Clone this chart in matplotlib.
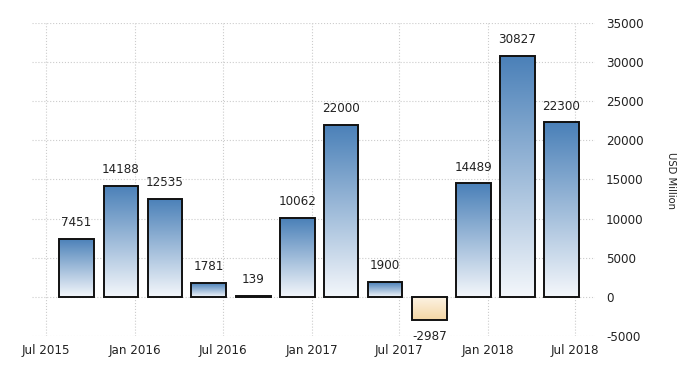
import datetime as dt

import matplotlib
matplotlib.use("Agg")
import matplotlib.pyplot as plt
import matplotlib.dates as mdates
import numpy as np
from matplotlib.colors import LinearSegmentedColormap
from matplotlib import font_manager

# quarterly values, USD million
quarters = ["2015-09-30", "2015-12-31", "2016-03-31", "2016-06-30",
            "2016-09-30", "2016-12-31", "2017-03-31", "2017-06-30",
            "2017-09-30", "2017-12-31", "2018-03-31", "2018-06-30"]
values = [7451, 14188, 12535, 1781, 139, 10062, 22000, 1900, -2987, 14489, 30827, 22300]
tick_dates = ["2015-07-01", "2016-01-01", "2016-07-01", "2017-01-01",
              "2017-07-01", "2018-01-01", "2018-07-01"]
tick_labels = ["Jul 2015", "Jan 2016", "Jul 2016", "Jan 2017",
               "Jul 2017", "Jan 2018", "Jul 2018"]
y_ticks = [-5000, 0, 5000, 10000, 15000, 20000, 25000, 30000, 35000]

names = {f.name for f in font_manager.fontManager.ttflist}
if "Liberation Sans Narrow" in names:
    plt.rcParams['font.family'] = ['Liberation Sans Narrow', 'DejaVu Sans']
else:
    plt.rcParams['font.family'] = ['DejaVu Sans']
    plt.rcParams['font.stretch'] = 'condensed'

blue_cmap = LinearSegmentedColormap.from_list("b", ["#f4f7fb", "#4a80b8"])
neg_cmap = LinearSegmentedColormap.from_list("o", ["#fdf4e6", "#f4d6a4"])

fig = plt.figure(figsize=(7, 3.75), dpi=100)
ax = fig.add_axes([0.046, 0.104, 0.804, 0.835])

to_num = lambda s: mdates.date2num(dt.datetime.strptime(s, "%Y-%m-%d"))
# bars sit a bit before the quarter end
xs = [to_num(q) - 28 for q in quarters]
width = 72

bars = ax.bar(xs, values, width=width, facecolor="none", edgecolor="#111111",
              linewidth=1.4, zorder=3)

# gradient fill, dark at the value end, light at zero
grad = np.linspace(0, 1, 256).reshape(-1, 1)
for b, v in zip(bars, values):
    x0 = b.get_x()
    if v >= 0:
        im = ax.imshow(grad, cmap=blue_cmap, aspect="auto", origin="lower",
                       extent=[x0, x0 + width, 0, v], zorder=2)
    else:
        im = ax.imshow(grad[::-1], cmap=neg_cmap, aspect="auto", origin="lower",
                       extent=[x0, x0 + width, v, 0], zorder=2)
    im.set_clip_path(b)

for x, v in zip(xs, values):
    if v >= 0:
        ax.annotate(str(v), (x, v), xytext=(0, 7), textcoords="offset points",
                    ha="center", va="bottom", fontsize=9.5, color="#222222")
    else:
        ax.annotate(str(v), (x, v), xytext=(0, -7), textcoords="offset points",
                    ha="center", va="top", fontsize=9.5, color="#222222")

ax.set_xlim(to_num("2015-06-02"), to_num("2018-08-11"))
ax.set_ylim(-5000, 35000)
ax.set_xticks([to_num(t) for t in tick_dates])
ax.set_xticklabels(tick_labels, fontsize=9.5, color="#222222")
ax.set_yticks(y_ticks)
ax.set_yticklabels([str(t) for t in y_ticks], fontsize=9.5, color="#222222")
ax.yaxis.tick_right()
ax.tick_params(axis="both", length=0, pad=8)
ax.tick_params(axis="x", pad=6)

ax.grid(True, linestyle=":", color="#cccccc", linewidth=0.8, zorder=0)
for s in ax.spines.values():
    s.set_visible(False)

fig.text(0.958, 0.52, "USD Million", rotation=-90, ha="center", va="center",
         fontsize=8, color="#222222")

fig.savefig("out.png", dpi=100)
